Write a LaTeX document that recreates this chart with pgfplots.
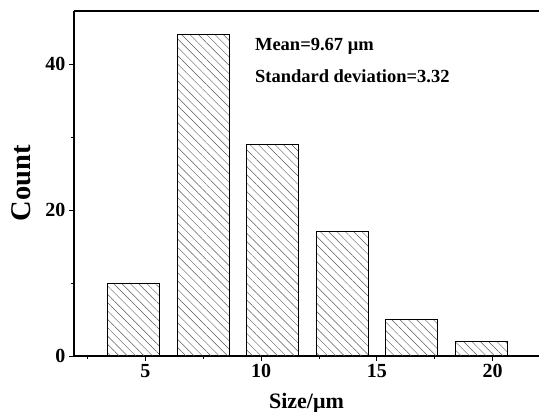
\documentclass[border=0pt]{standalone}
\usepackage{pgfplots}
\pgfplotsset{compat=1.18}
\usepackage{fontspec}
\setmainfont{Liberation Serif}
\usetikzlibrary{patterns.meta}
\begin{document}
\begin{tikzpicture}
\useasboundingbox (-74pt,-56pt) rectangle (465pt,356pt);
\begin{axis}[
  at={(0,0)}, anchor=south west,
  scale only axis,
  width=465pt, height=345pt,
  xmin=1.92, xmax=22, ymin=0, ymax=47.26,
  axis x line=box, axis y line*=left,
  xtick={5,10,15,20}, minor xtick={2.5,7.5,12.5,17.5},
  ytick={0,20,40}, minor ytick={10,30},
  xtick pos=bottom, ytick pos=left,
  tick align=outside,
  major tick length=5pt, minor tick length=3pt,
  every tick/.style={black, line width=0.8pt},
  axis line style={line width=1.1pt},
  /pgf/number format/assume math mode=true,
  ticklabel style={font=\fontsize{20}{22}\selectfont\bfseries},
  xlabel={Size/μm}, ylabel={Count},
  every axis x label/.style={at={(axis description cs:0.5,0)}, yshift=-52.5pt, anchor=base, font=\fontsize{22}{24}\selectfont\bfseries},
  every axis y label/.style={at={(axis description cs:0,0.5)}, xshift=-52.3pt, rotate=90, anchor=center, font=\fontsize{28.5}{30}\selectfont\bfseries},
  clip=false,
]
\addplot[ybar, bar width=2.25, draw=black, line width=0.9pt,
  pattern={Lines[angle=-45, distance=5.9pt, line width=0.45pt]}, pattern color=black!65]
  coordinates {(4.5,10) (7.5,44) (10.5,29) (13.5,17) (16.5,5) (19.5,2)};
\node[anchor=base west, inner sep=0pt, font=\fontsize{18.5}{20}\selectfont\bfseries] at (axis cs:9.73,41.9) {Mean=9.67 μm};
\node[anchor=base west, inner sep=0pt, font=\fontsize{18.5}{20}\selectfont\bfseries] at (axis cs:9.73,37.4) {Standard deviation=3.32};
\end{axis}
\end{tikzpicture}
\end{document}
